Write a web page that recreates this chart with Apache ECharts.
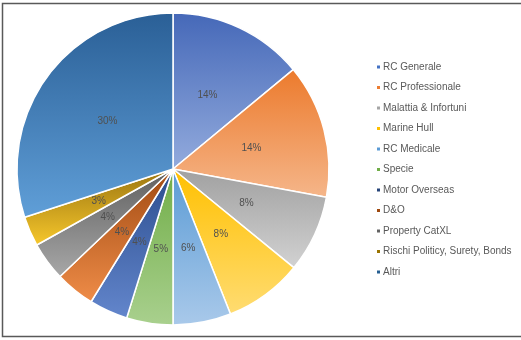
<!DOCTYPE html>
<html><head><meta charset="utf-8">
<script src="https://cdn.jsdelivr.net/npm/echarts@6/dist/echarts.min.js"></script>
<style>html,body{margin:0;padding:0;background:#fff}#c{width:521px;height:340px}</style>
</head><body><div id="c"></div>
<script>
const categories = ['RC Generale','RC Professionale','Malattia & Infortuni','Marine Hull','RC Medicale','Specie','Motor Overseas','D&O','Property CatXL','Rischi Politicy, Surety, Bonds','Altri'];
const values = [14.0, 13.9, 8.0, 8.1, 6.0, 4.8, 4.0, 4.1, 4.0, 3.1, 30.0];
const topColors = ['#4568b8','#ec7a2c','#a0a0a0','#ffc000','#5b9bd5','#70ad47','#2b4d8e','#a04a12','#5f5f5f','#9a7410','#2a5f96'];
const bottomColors = ['#93abdd','#f5b68a','#d2d2d2','#ffdc72','#a9c9ea','#a9d08e','#6386cc','#ef8c48','#a8a8a8','#f7c82c','#609fd8'];
const legendColors = ['#4472c4','#ed7d31','#a5a5a5','#ffc000','#5b9bd5','#70ad47','#264478','#9e480e','#636363','#997300','#255e91'];

const chart = echarts.init(document.getElementById('c'), null, {renderer:'canvas'});
const data = categories.map((n,i)=>({
  name:n, value:values[i],
  itemStyle:{color:{type:'linear',x:0,y:0,x2:0,y2:1,colorStops:[{offset:0,color:topColors[i]},{offset:1,color:bottomColors[i]}]}}
}));
chart.setOption({
  animation:false,
  graphic:[{type:'rect',shape:{x:2.5,y:3.5,width:560,height:333},style:{fill:'none',stroke:'#595959',lineWidth:1.5},silent:true}],
  legend:{
    orient:'vertical', left:375, top:62, padding:0, itemWidth:5, itemHeight:5, itemGap:10.5,
    icon:'rect',
    data:categories.map((n,i)=>({name:n,itemStyle:{color:legendColors[i]}})),
    textStyle:{fontFamily:'Liberation Sans',fontSize:10,color:'#595959',padding:[0,0,0,-3]}
  },
  series:[{
    type:'pie', center:[173,169], radius:[0,156], startAngle:90, clockwise:true,
    avoidLabelOverlap:false,
    itemStyle:{borderColor:'#fff',borderWidth:1.5},
    label:{position:'inside',fontFamily:'Liberation Sans',fontSize:10,color:'#505050',
      formatter:p=>Math.round(p.percent)+'%'},
    labelLine:{show:false},
    data:data
  }]
});
</script></body></html>
